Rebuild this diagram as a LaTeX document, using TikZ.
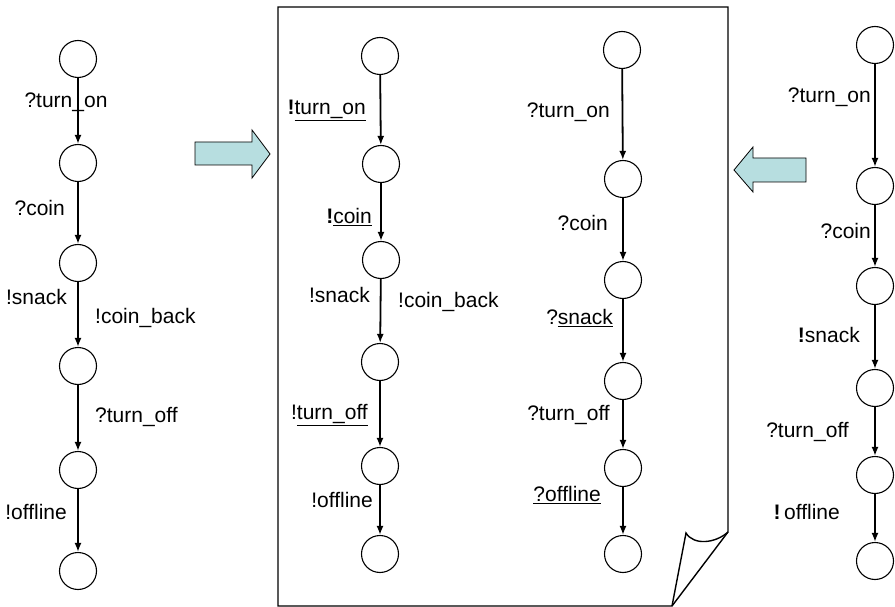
\documentclass[tikz,border=0pt]{standalone}
\usepackage{xcolor}
\usepackage{tikz}
\usepackage{fontspec}
\setmainfont{Liberation Sans}
\usetikzlibrary{shapes, arrows, arrows.meta, positioning}
\definecolor{arrowblue}{RGB}{183,222,224}

\begin{document}
\begin{tikzpicture}[x=1pt,y=-1pt]
        \useasboundingbox (0,0) rectangle (895,607);
        % page
        \draw[line width=1.4pt,line join=miter] (278,7) -- (728,7) -- (728,532) -- (672,606) -- (278,606) -- cycle;
        \draw[line width=1.4pt] (672,606) -- (686,533) .. controls (694,546) and (716,543) .. (728,532);
        % block arrows
        \draw[fill=arrowblue,line width=0.8pt] (195,142) -- (252,142) -- (252,130) -- (270,154) -- (252,178) -- (252,165) -- (195,165) -- cycle;
        \draw[fill=arrowblue,line width=0.8pt] (806,158) -- (753,158) -- (753,147) -- (734,170) -- (753,192) -- (753,182) -- (806,182) -- cycle;
        \begin{scope}[every node/.style={draw,circle,line width=1.1pt,minimum size=37pt,inner sep=0pt}]
          \node (l1) at (78,59) {};
          \node (l2) at (78,163) {};
          \node (l3) at (78,263) {};
          \node (l4) at (78,366) {};
          \node (l5) at (78,470) {};
          \node (l6) at (78,571) {};
          \node (p1) at (380,56) {};
          \node (p2) at (381,164) {};
          \node (p3) at (381,260) {};
          \node (p4) at (380,362) {};
          \node (p5) at (380,466) {};
          \node (p6) at (380,554) {};
          \node (q1) at (622,50) {};
          \node (q2) at (623,179) {};
          \node (q3) at (623,280) {};
          \node (q4) at (623,381) {};
          \node (q5) at (623,468) {};
          \node (q6) at (623,554) {};
          \node (r1) at (875,45) {};
          \node (r2) at (875,186) {};
          \node (r3) at (875,286) {};
          \node (r4) at (875,388) {};
          \node (r5) at (875,475) {};
          \node (r6) at (875,561) {};
        \end{scope}
        \begin{scope}[every edge/.style={draw=black,line width=1.8pt,-{Latex[length=9pt,width=7pt]}}]
          \path (l1) edge (l2);
          \path (l2) edge (l3);
          \path (l3) edge (l4);
          \path (l4) edge (l5);
          \path (l5) edge (l6);
          \path (p1) edge (p2);
          \path (p2) edge (p3);
          \path (p3) edge (p4);
          \path (p4) edge (p5);
          \path (p5) edge (p6);
          \path (q1) edge (q2);
          \path (q2) edge (q3);
          \path (q3) edge (q4);
          \path (q4) edge (q5);
          \path (q5) edge (q6);
          \path (r1) edge (r2);
          \path (r2) edge (r3);
          \path (r3) edge (r4);
          \path (r4) edge (r5);
          \path (r5) edge (r6);
        \end{scope}
        \begin{scope}[every node/.style={inner sep=0pt,font=\fontsize{21}{25}\selectfont}]
          \node (lt1) at (66,102) {?turn\_on};
          \node[anchor=east] (lt2) at (65,208) {?coin};
          \node[anchor=east] (lt3) at (67,297) {!snack};
          \node[anchor=west] (lt3b) at (95,318) {!coin\_back};
          \node[anchor=west] (lt4) at (95,417) {?turn\_off};
          \node[anchor=east] (lt5) at (67,512) {!offline};
          \node[anchor=east] (pt1) at (366,110) {\textbf{!}\underline{turn\_on}};
          \node[anchor=east] (pt2) at (372,217) {\textbf{!}\underline{coin}};
          \node[anchor=east] (pt3) at (370,295) {!snack};
          \node[anchor=west] (pt3b) at (398,302) {!coin\_back};
          \node[anchor=east] (pt4) at (368,415) {!\underline{turn\_off}};
          \node[anchor=east] (pt5) at (373,500) {!offline};
          \node[anchor=east] (qt1) at (610,112) {?turn\_on};
          \node[anchor=east] (qt2) at (608,223) {?coin};
          \node[anchor=east] (qt3) at (613,318) {?\underline{snack}};
          \node[anchor=east] (qt4) at (610,415) {?turn\_off};
          \node[anchor=east] (qt5) at (601,495) {\underline{?offline}};
          \node[anchor=east] (rt1) at (871,97) {?turn\_on};
          \node[anchor=east] (rt2) at (871,231) {?coin};
          \node[anchor=east] (rt3) at (860,335) {\textbf{!}snack};
          \node[anchor=east] (rt4) at (849,432) {?turn\_off};
          \node[anchor=east] (rt5) at (840,512) {\textbf{!}\,offline};
        \end{scope}
      \end{tikzpicture}
\end{document}
